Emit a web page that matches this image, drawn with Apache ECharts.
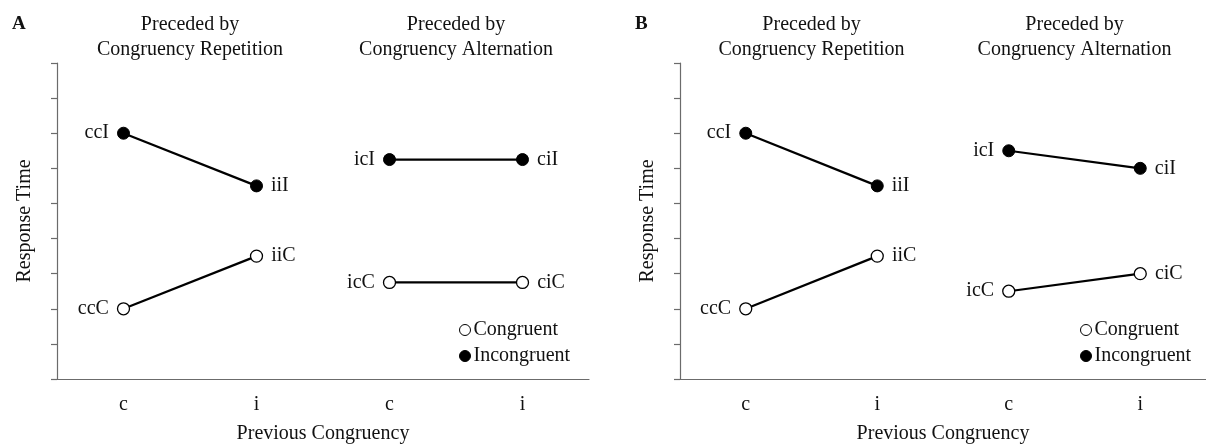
<!DOCTYPE html>
<html>
<head>
<meta charset="utf-8">
<script src="https://cdn.jsdelivr.net/npm/echarts@6/dist/echarts.min.js"></script>
<style>
html,body{margin:0;padding:0;background:#fff;}
#chart{width:1206px;height:445px;}
</style>
</head>
<body>
<div id="chart"></div>
<script>
// ---- data ----
const categories = ['c', 'i', 'c', 'i'];
const panelLetters = ['A', 'B'];
const groupTitles = ['Preceded by\nCongruency Repetition', 'Preceded by\nCongruency Alternation'];
const seriesNames = ['Congruent', 'Incongruent'];
const panelA_congruent = [2, 3.5, 2.75, 2.75];
const panelA_incongruent = [7, 5.5, 6.25, 6.25];
const panelB_congruent = [2, 3.5, 2.5, 3];
const panelB_incongruent = [7, 5.5, 6.5, 6];
const labelsCongruent = ['ccC', 'iiC', 'icC', 'ciC'];
const labelsIncongruent = ['ccI', 'iiI', 'icI', 'ciI'];
const yTicks = [0, 1, 2, 3, 4, 5, 6, 7, 8, 9];
const xAxisName = 'Previous Congruency';
const yAxisName = 'Response Time';

// ---- styling ----
const FONT = '"Liberation Serif", "Times New Roman", serif';
const AXIS_COLOR = '#6b6b6b';
const TEXT_COLOR = '#111';
const grids = [
  { left: 57, top: 63, width: 532, height: 316, containLabel: false, outerBoundsMode: 'none' },
  { left: 680, top: 63, width: 526, height: 316, containLabel: false, outerBoundsMode: 'none' }
];
const panels = [
  { cong: panelA_congruent, incong: panelA_incongruent },
  { cong: panelB_congruent, incong: panelB_incongruent }
];

const xAxes = grids.map((g, i) => ({
  type: 'category', gridIndex: i, data: categories, boundaryGap: true,
  axisLine: { lineStyle: { color: AXIS_COLOR, width: 1.2 } },
  axisTick: { show: false },
  axisLabel: { fontFamily: FONT, fontSize: 20, color: TEXT_COLOR, margin: 16 },
  name: xAxisName, nameLocation: 'middle', nameGap: 45,
  nameTextStyle: { fontFamily: FONT, fontSize: 20, color: TEXT_COLOR }
}));
const yAxes = grids.map((g, i) => ({
  type: 'value', gridIndex: i, min: yTicks[0], max: yTicks[yTicks.length - 1], interval: 1,
  axisLine: { show: true, lineStyle: { color: AXIS_COLOR, width: 1.2 } },
  axisTick: { show: true, length: 6, lineStyle: { color: AXIS_COLOR, width: 1.2 } },
  axisLabel: { show: false },
  splitLine: { show: false },
  name: yAxisName, nameLocation: 'middle', nameGap: 22,
  nameTextStyle: { fontFamily: FONT, fontSize: 20, color: TEXT_COLOR }
}));

const series = [];
panels.forEach((p, pi) => {
  [0, 1].forEach(ci => {
    const vals = ci === 0 ? p.cong : p.incong;
    const labs = ci === 0 ? labelsCongruent : labelsIncongruent;
    [0, 1].forEach(half => {
      const data = vals.map((v, k) => {
        if (Math.floor(k / 2) !== half) return null;
        return {
          value: v,
          label: {
            show: true, formatter: labs[k],
            position: (k % 2 === 0) ? 'left' : 'right', distance: 8
          }
        };
      });
      series.push({
        type: 'line', name: seriesNames[ci],
        xAxisIndex: pi, yAxisIndex: pi,
        data: data, connectNulls: false,
        symbol: 'circle', symbolSize: 12,
        lineStyle: { color: '#000', width: 2.2 },
        itemStyle: ci === 0
          ? { color: '#fff', borderColor: '#000', borderWidth: 1.3 }
          : { color: '#000', borderColor: '#000', borderWidth: 1 },
        label: { fontFamily: FONT, fontSize: 20, color: TEXT_COLOR },
        emphasis: { disabled: true },
        z: ci === 0 ? 3 : 4,
        animation: false
      });
    });
  });
});

const legendData = [
  { name: seriesNames[0], icon: 'circle', itemStyle: { color: '#fff', borderColor: '#000', borderWidth: 1 } },
  { name: seriesNames[1], icon: 'circle', itemStyle: { color: '#000', borderColor: '#000', borderWidth: 1 } }
];
const legends = [
  { left: 459, top: 320 },
  { left: 1080, top: 320 }
].map(pos => ({
  left: pos.left, top: pos.top, orient: 'vertical',
  itemWidth: 11, itemHeight: 11, itemGap: 6,
  textStyle: { fontFamily: FONT, fontSize: 20, color: TEXT_COLOR, padding: [0, 0, 0, -2] },
  data: legendData, selectedMode: false, padding: 0
}));

const chart = echarts.init(document.getElementById('chart'), null, { renderer: 'canvas' });
chart.setOption({
  backgroundColor: '#fff',
  animation: false,
  grid: grids,
  xAxis: xAxes,
  yAxis: yAxes,
  legend: legends,
  series: series
});

// group titles and panel letters placed via the axes
const graphics = [];
grids.forEach((g, pi) => {
  [0, 1].forEach(half => {
    const a = chart.convertToPixel({ gridIndex: pi }, [half * 2, 0]);
    const b = chart.convertToPixel({ gridIndex: pi }, [half * 2 + 1, 0]);
    graphics.push({
      type: 'text', x: (a[0] + b[0]) / 2, y: 12,
      style: { text: groupTitles[half], font: '20px ' + FONT, fill: TEXT_COLOR,
               textAlign: 'center', textVerticalAlign: 'top', lineHeight: 25 }
    });
  });
  graphics.push({
    type: 'text', x: g.left - 45, y: 15,
    style: { text: panelLetters[pi], font: 'bold 19px ' + FONT, fill: TEXT_COLOR,
             textAlign: 'left', textVerticalAlign: 'top' }
  });
});
chart.setOption({ graphic: graphics });
</script>
</body>
</html>
